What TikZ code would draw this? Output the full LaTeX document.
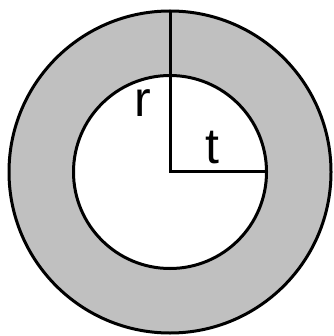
\documentclass[tikz,border=0pt]{standalone}
\usepackage{fontspec}
\setmainfont{Liberation Sans}
\definecolor{ringgray}{HTML}{C0C0C0}
\begin{document}
\begin{tikzpicture}[x=1pt,y=-1pt,
  edge/.style={line width=3pt},
  lbl/.style={font=\fontsize{50}{50}\selectfont, inner sep=0pt}]
\useasboundingbox (0,0) rectangle (333,336);
\coordinate (c) at (170,172);
\fill[ringgray, even odd rule] (c) circle[radius=161] (c) circle[radius=96.5];
\draw[edge] (c) circle[radius=161];
\draw[edge] (c) circle[radius=96.5];
\coordinate (top) at (170,11);
\coordinate (right) at (266.5,172);
\draw[edge] (top) -- (c) -- (right);
\node[lbl] (r) at (143,103) {r};
\node[lbl] (t) at (212,148) {t};
\end{tikzpicture}
\end{document}
